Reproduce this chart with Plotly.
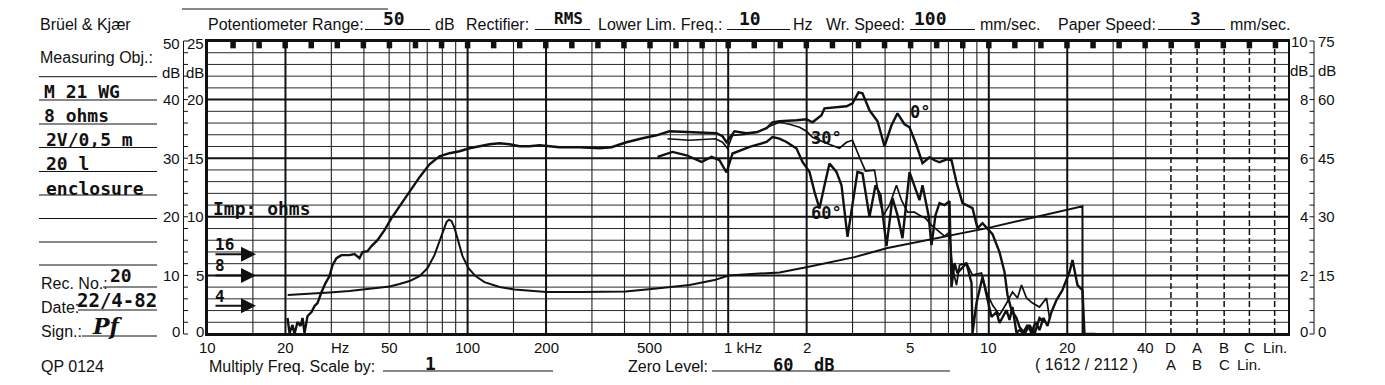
import math
import plotly.graph_objects as go

# ---------------- data read from the recording ----------------
# impedance curve (level on the 0-50 dB paper scale)
imp_freq = [20.4, 24.7, 29.5, 35.2, 42.0, 50.2, 54.8, 59.9, 65.4, 70.2, 74.6, 78.0, 80.8, 83.0, 84.8,
            86.8, 89.1, 92.3, 95.6, 100.8, 107.2, 116.1, 132.6, 151.4, 172.8, 200.8, 268.8, 403.5,
            507.6, 710.4, 886, 1003, 1319, 1573, 2015, 3052, 4087, 10063, 22880, 22900]
imp_level = [6.65, 6.82, 7.07, 7.33, 7.67, 8.1, 8.52, 9.03, 9.88, 11.25, 13.46, 15.68, 17.72, 19.09,
             19.51, 19.26, 18.06, 15.68, 13.29, 11.25, 9.88, 8.86, 8.01, 7.58, 7.33, 7.16, 7.16, 7.24,
             7.67, 8.35, 9.2, 9.97, 10.31, 10.48, 11.42, 13.12, 14.66, 18.15, 21.81, 0]

# on-axis response (0 deg)
r0_freq = [20.37, 20.73, 21.29, 21.67, 22.25, 22.85, 23.26, 23.67, 24.31, 25.18, 25.86, 26.55, 27.51,
           28.5, 29.52, 30.31, 31.4, 32.82, 35.22, 36.81, 38.48, 39.51, 41.29, 42.78, 45.11, 47.99,
           51.05, 54.8, 59.85, 65.4, 71.43, 78.0, 85.22, 93.09, 101.7, 111.1, 121.4, 132.6, 144.8,
           158.2, 172.8, 188.8, 206.2, 225.2, 268.8, 320.8, 356.6, 407.1, 469.1, 530.8, 595.4, 776.1,
           901.9, 950.9, 984.9, 1057, 1176, 1284, 1403, 1479, 1573, 1829, 1997, 2106, 2280, 2342,
           2513, 2844, 2999, 3162, 3276, 3485, 3741, 3979, 4233, 4463, 4749, 4963, 5280, 5566, 5922,
           6189, 6468, 6942, 7192, 7517, 7926, 8660, 9050, 9459, 10332, 10992, 11488, 11797, 12222,
           12774, 13118, 13590, 14078, 14583, 15108, 15651, 16213, 16796, 17399, 18185, 19175,
           20400, 20949, 21895, 22880, 23290, 25670]
r0_level = [2.73, 0.17, 1.53, 0, 2.05, 1.36, 2.73, 0.17, 3.07, 3.75, 4.77, 5.28, 7.16, 8.69, 9.88,
            11.76, 12.95, 13.46, 13.46, 13.63, 12.95, 13.97, 14.14, 15.0, 16.02, 17.72, 19.77, 21.81,
            24.37, 26.76, 28.97, 30.33, 30.85, 31.19, 31.7, 32.04, 32.38, 32.55, 32.38, 32.04, 32.04,
            32.21, 32.04, 31.87, 31.87, 31.7, 31.87, 32.72, 33.4, 33.91, 34.59, 34.42, 34.25, 33.74,
            32.72, 34.59, 34.25, 34.42, 35.11, 36.13, 36.3, 36.47, 36.64, 36.13, 37.32, 38.51, 38.68,
            38.86, 39.37, 41.24, 41.07, 38.17, 36.3, 32.04, 35.62, 37.66, 35.79, 35.28, 32.21, 29.14,
            30.16, 29.65, 29.31, 29.82, 29.65, 25.9, 22.33, 21.47, 18.07, 18.92, 17.04, 13.97, 10.57,
            6.65, 4.09, 2.73, 1.19, 0.34, 1.53, 0.17, 2.05, 0.68, 2.73, 1.36, 3.75, 5.79, 7.5, 10.57,
            12.61, 8.35, 7.5, 0, 0]

# 30 deg off-axis response
r30_freq = [584.9, 710.4, 894, 950.9, 993.8, 1039, 1155, 1319, 1441, 1573, 1719, 1878, 1997, 2106,
            2384, 2673, 2844, 2999, 3190, 3364, 3642, 3807, 3944, 4158, 4423, 4624, 4876, 5187, 5421,
            5715, 6027, 6468, 6761, 7066, 7256, 7517, 7718, 8209, 8660, 9376, 9799, 10332, 10992,
            11590, 12330, 12888, 13352, 13954, 14713, 15651, 16650, 17095]
r30_level = [33.32, 33.06, 33.32, 32.72, 31.7, 33.91, 34.08, 34.59, 35.45, 36.13, 35.79, 35.28, 34.59,
             33.57, 32.55, 31.7, 32.72, 33.06, 30.16, 27.78, 27.95, 22.84, 20.28, 21.98, 25.39, 22.84,
             20.79, 20.79, 20.28, 19.77, 18.58, 17.38, 16.7, 17.38, 11.25, 8.35, 11.76, 12.1, 10.05,
             10.4, 7.16, 4.94, 3.24, 4.94, 7.16, 6.14, 8.35, 6.14, 5.28, 4.6, 6.14, 2.73]

# 60 deg off-axis response
r60_freq = [535.5, 611.5, 691.8, 790, 862.9, 926, 984.9, 1039, 1208, 1403, 1479, 1573, 1674, 1829,
            1928, 2051, 2144, 2240, 2342, 2448, 2603, 2721, 2870, 2999, 3134, 3276, 3485, 3674, 3841,
            4050, 4270, 4463, 4665, 4963, 5187, 5421, 5566, 5870, 6027, 6244, 6468, 6761, 7066, 7192,
            7385, 7582, 8209, 8583, 8660, 8970, 9459, 9886, 10241, 10704, 10992, 11694, 12008, 12330,
            12774, 13118, 13710, 14325, 14975, 15651, 16359]
r60_level = [30.22, 31.07, 30.5, 29.36, 30.22, 29.65, 27.56, 30.8, 31.92, 32.77, 33.62, 33.35, 32.77,
             31.65, 29.36, 27.66, 24.25, 21.42, 25.39, 29.09, 27.66, 25.39, 16.58, 22.55, 27.66, 27.39,
             19.99, 25.39, 23.69, 15.0, 23.18, 20.28, 16.36, 27.61, 25.39, 22.84, 25.39, 20.28, 15.17,
             20.28, 22.33, 21.98, 22.67, 8.01, 12.1, 10.4, 12.1, 8.69, 0.17, 5.28, 9.71, 5.79, 2.9,
             3.75, 1.87, 4.09, 2.39, 4.6, 0.17, 0.68, 0, 1.53, 0, 2.73, 2.05]

# paper grid
grid_freq_major = [10, 20, 100, 200, 1000, 2000, 10000, 20000]
grid_freq_minor = [15, 30, 40, 50, 60, 70, 80, 90,
                   150, 300, 400, 500, 600, 700, 800, 900,
                   1500, 3000, 4000, 5000, 6000, 7000, 8000, 9000,
                   15000, 30000, 40000]
filter_freq = [50000, 63000, 80000, 100000, 125000]
filter_row1 = ["D", "A", "B", "C", "Lin."]
filter_row2 = ["A", "B", "C", "Lin."]
freq_tick_vals = [10, 20, 50, 100, 200, 500, 1000, 2000, 5000, 10000, 20000, 40000]
freq_tick_text = ["10", "20", "50", "100", "200", "500", "1 kHz", "2", "5", "10", "20", "40"]
scale_levels = [50, 40, 30, 20, 10, 0]
left_outer = ["50", "40", "30", "20", "10", "0"]
left_inner = ["25", "20", "15", "10", "5", "0"]
right_outer = ["10", "8", "6", "4", "2", "0"]
right_inner = ["75", "60", "45", "30", "15", "0"]
imp_marks = ["16", "8", "4"]
imp_mark_level = [13.6, 10.0, 4.8]

# ---------------- geometry of the page ----------------
PAGE = 8                                # browser body margin
W, H = 1385 - 2 * PAGE, 385 - 2 * PAGE
L, R, T, B = 207, 1288, 41, 334         # plot edges in window pixels
XMAX = 1 + (R - L) / 260.6              # log10 of frequency at right edge
FMAX = 10 ** XMAX
INK = "#111111"
SANS = "Liberation Sans, Arial, sans-serif"
MONO = "DejaVu Sans Mono, monospace"


def px(x):
    return (x - L) / (R - L)


def py(y):
    return (B - y) / (B - T)


def fx(f):
    return (math.log10(f) - 1) / (XMAX - 1)


fig = go.Figure()


def seg_trace(xs, ys, width, dash="solid", color=INK):
    fig.add_trace(go.Scatter(x=xs, y=ys, mode="lines", hoverinfo="skip", showlegend=False,
                             line=dict(color=color, width=width, dash=dash)))


def vlines(freqs, y0=0, y1=50):
    xs, ys = [], []
    for f in freqs:
        xs += [f, f, None]
        ys += [y0, y1, None]
    return xs, ys


def hlines(levels):
    xs, ys = [], []
    for v in levels:
        xs += [10, FMAX, None]
        ys += [v, v, None]
    return xs, ys


# horizontal grid: every 2 dB, bold every 10 dB
thin_levels = [v for v in range(0, 51, 2) if v % 10 != 0]
bold_levels = [v for v in range(0, 51, 10)]
seg_trace(*hlines(thin_levels), 1.0, color="#2a2a2a")
seg_trace(*hlines(bold_levels), 2.0)
# vertical grid
seg_trace(*vlines(grid_freq_minor), 1.1, color="#222")
seg_trace(*vlines(grid_freq_major), 2.0)
seg_trace(*vlines(filter_freq), 1.5, dash="6px,3px")
# top time-marks
marks = [10 ** (1 + n / 10) for n in range(1, 42)]
seg_trace(*vlines(marks, 48.75, 50), 5.5)

# curves
fig.add_trace(go.Scatter(x=imp_freq, y=imp_level, mode="lines", hoverinfo="skip", showlegend=False,
                         line=dict(color=INK, width=2.0)))
fig.add_trace(go.Scatter(x=r30_freq, y=r30_level, mode="lines", hoverinfo="skip", showlegend=False,
                         line=dict(color=INK, width=1.7)))
fig.add_trace(go.Scatter(x=r60_freq, y=r60_level, mode="lines", hoverinfo="skip", showlegend=False,
                         line=dict(color=INK, width=2.4)))
fig.add_trace(go.Scatter(x=r0_freq, y=r0_level, mode="lines", hoverinfo="skip", showlegend=False,
                         line=dict(color=INK, width=2.4)))

ann = []


def text(t, x, y, size=16, family=SANS, xa="center", ya="middle", h=None):
    d = dict(text=t, x=px(x), y=py(y), xref="paper", yref="paper", showarrow=False,
             xanchor=xa, yanchor=ya, borderpad=0,
             font=dict(size=size, family=family, color=INK))
    if h is not None:
        d["height"] = h
    ann.append(d)


def pen(t, x, y, size=18, xa="center", ya="middle", h=None):
    """hand-lettered (stencil) entries"""
    text("<b>" + t + "</b>", x, y, size, MONO, xa, ya, h)


shapes = []


def line(x0, y0, x1, y1, w=1.2):
    shapes.append(dict(type="line", xref="paper", yref="paper", x0=px(x0), y0=py(y0),
                       x1=px(x1), y1=py(y1), line=dict(color=INK, width=w)))


# ---- header ----
line(182, 9, 388, 9, 1.2)
text("Brüel &amp; Kjær", 39, 24, xa="left")
text("Potentiometer Range:", 207, 24, xa="left")
line(365, 29.5, 430, 29.5)
pen("50", 394, 19)
text("dB", 434, 24, xa="left")
text("Rectifier:", 465, 24, xa="left")
line(535, 29.5, 590, 29.5)
pen("RMS", 568, 19, 16)
text("Lower Lim. Freq.:", 597, 24, xa="left")
line(727, 29.5, 790, 29.5)
pen("10", 750, 19)
text("Hz", 792, 24, xa="left")
text("Wr. Speed:", 825, 24, xa="left")
line(910, 29.5, 975, 29.5)
pen("100", 930, 19)
text("mm/sec.", 979, 24, xa="left")
text("Paper Speed:", 1057, 24, xa="left")
line(1158, 29.5, 1225, 29.5)
pen("3", 1195, 19)
text("mm/sec.", 1229, 24, xa="left")

# ---- left panel ----
text("Measuring Obj.:", 39, 58, xa="left")
for yy in [76.7, 100, 124, 147.5, 171.5, 195, 218.5, 242, 265]:
    line(39, yy, 157, yy, 1.0)
pen("M 21 WG", 43, 91, xa="left")
pen("8 ohms", 43, 115, xa="left")
pen("2V/0,5 m", 45, 139, xa="left")
pen("20 l", 45, 163, xa="left")
pen("enclosure", 45, 188, xa="left")
text("Rec. No.:", 40, 283, xa="left")
line(103, 287, 157, 287, 1.0)
pen("20", 121, 275)
text("Date:", 40, 307, xa="left")
line(78, 310, 157, 310, 1.0)
pen("22/4-82", 117, 300, 19)
text("Sign.:", 40, 331, xa="left")
line(82, 336, 157, 336, 1.0)
text("<b><i>Pf</i></b>", 107, 326, 22, "DejaVu Serif, serif")
text("QP 0124", 40, 367, xa="left")

# ---- level scales ----
for lv, lo, li in zip(scale_levels, left_outer, left_inner):
    yy = B - (B - T) * lv / 50
    if lv == 50:
        yy += 2
    if lv == 0:
        yy -= 3
    text(lo, 181, yy, 15, xa="right")
    text(li, 205, yy, 15, xa="right")
for lv, ro, ri in zip(scale_levels, right_outer, right_inner):
    yy = B - (B - T) * lv / 50
    if lv == 0:
        yy -= 3
    text(ro, 1309, yy, 15, xa="right")
    text(ri, 1317, yy, 15, xa="left")
text("dB", 181, 72, 15, xa="right")
text("dB", 205, 72, 15, xa="right")
text("dB", 1309, 71, 15, xa="right")
text("dB", 1317, 71, 15, xa="left")
line(183.5, T, 183.5, B, 1.0)
line(1314, T, 1314, B, 1.0)
for lv in range(0, 51, 2):
    yy = B - (B - T) * lv / 50
    line(183.5, yy, 188, yy, 1.0)
    line(1309.5, yy, 1314, yy, 1.0)

# ---- frequency labels ----
for f, t in zip(freq_tick_vals, freq_tick_text):
    if t == "1 kHz":
        ann.append(dict(text=t, x=fx(f), y=py(347), xref="paper", yref="paper", showarrow=False,
                        xanchor="left", yanchor="middle", xshift=-5, borderpad=0,
                        font=dict(size=15, family=SANS, color=INK)))
    else:
        ann.append(dict(text=t, x=fx(f), y=py(347), xref="paper", yref="paper", showarrow=False,
                        xanchor="center", yanchor="middle", borderpad=0,
                        font=dict(size=15, family=SANS, color=INK)))
text("Hz", 340, 347, 15)
for f, t in zip(filter_freq, filter_row1):
    ann.append(dict(text=t, x=fx(f), y=py(347), xref="paper", yref="paper", showarrow=False,
                    xanchor="center", yanchor="middle", borderpad=0,
                    font=dict(size=15, family=SANS, color=INK)))
for f, t in zip(filter_freq, filter_row2):
    ann.append(dict(text=t, x=fx(f), y=py(364), xref="paper", yref="paper", showarrow=False,
                    xanchor="center", yanchor="middle", borderpad=0,
                    font=dict(size=15, family=SANS, color=INK)))
text("( 1612 / 2112 )", 1086, 364, 16)

# ---- footer ----
text("Multiply Freq. Scale by:", 208, 366, 16, xa="left")
line(383, 371, 553, 371, 1.0)
pen("1", 430, 363)
text("Zero Level:", 627, 366, 16, xa="left")
line(712, 371, 950, 371, 1.0)
pen("60  dB", 803, 365, 17, h=16)

# ---- annotations on the chart ----
pen("Imp: ohms", 212, 208, xa="left")
for t, lv in zip(imp_marks, imp_mark_level):
    yy = B - (B - T) * lv / 50
    pen(t, 214, yy + 1, 16, xa="left", ya="bottom")
    ann.append(dict(text="", x=px(256), y=py(yy), xref="paper", yref="paper", showarrow=True,
                    ax=-42, ay=0, arrowhead=2, arrowsize=1.5, arrowwidth=2, arrowcolor=INK))
pen("30°", 826, 138, 17)
pen("60°", 826, 213, 17)
pen("0°", 920, 112, 17)

fig.update_layout(
    width=W, height=H, autosize=False,
    margin=dict(l=L - PAGE, r=W - (R - PAGE), t=T - PAGE, b=H - (B - PAGE), pad=0),
    paper_bgcolor="white", plot_bgcolor="white",
    xaxis=dict(type="log", range=[1, XMAX], showgrid=False, zeroline=False, showticklabels=False,
               ticks="", showline=True, mirror=True, linecolor=INK, linewidth=2.2, fixedrange=True),
    yaxis=dict(range=[0, 50], showgrid=False, zeroline=False, showticklabels=False, ticks="",
               showline=True, mirror=True, linecolor=INK, linewidth=2.2, fixedrange=True),
    annotations=ann, shapes=shapes, showlegend=False,
)

fig.write_html("out.html")
